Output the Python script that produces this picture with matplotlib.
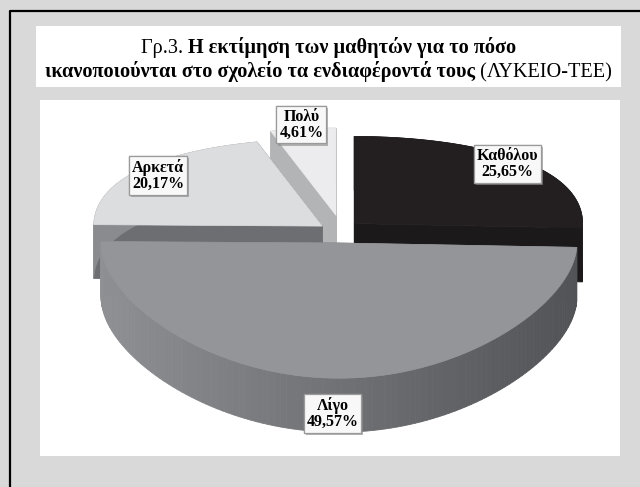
import numpy as np
import matplotlib
matplotlib.use("Agg")
import matplotlib.pyplot as plt
from matplotlib.patches import Polygon, Rectangle
import matplotlib.patheffects as pe

labels = ["Καθόλου", "Λίγο", "Αρκετά", "Πολύ"]
values = [25.65, 49.57, 20.17, 4.61]
top_colors = ["#231f20", "#939598", "#dcdddf", "#ececee"]
cut_colors = ["#1c191a", "#7a7b7e", "#6d6e71", "#b3b4b6"]
wall_colors = ["#1c191a", None, "#8a8b8e", "#b3b4b6"]
explode = [1, 0, 1, 1]
label_r = [0.93, 1.0, 0.9, 1.05]

title_line1 = [("Γρ.3. ", "normal"), ("Η εκτίμηση των μαθητών για το πόσο", "bold")]
title_line2 = [("ικανοποιούνται στο σχολείο τα ενδιαφέροντά τους", "bold"), (" (ΛΥΚΕΙΟ-ΤΕΕ)", "normal")]

W, H = 640, 487
fig = plt.figure(figsize=(W / 100, H / 100), dpi=100, facecolor="#d9d9d9")
ax = fig.add_axes([0, 0, 1, 1])
ax.set_xlim(0, W)
ax.set_ylim(H, 0)
ax.axis("off")

# outer frame and the two white panels
ax.plot([10, 10, W], [H, 11, 11], color="black", lw=1.6, solid_capstyle="butt")
ax.add_patch(Rectangle((36, 26), 585, 61, fc="white", ec="none"))
ax.add_patch(Rectangle((40, 100), 580, 356, fc="white", ec="none"))

# 3D pie geometry (screen units)
cx, cy = 339, 243
a = 238
k, p = 106, 0.216
h = 54
ex, ey = 21, 28
back_shrink = 0.96


def rim(theta, ox, oy, aa):
    v = np.cos(theta)
    return ox + aa * np.sin(theta), oy - k * v / (1 + p * v)


fracs = np.array(values) / sum(values)
ends = np.cumsum(fracs) * 2 * np.pi
starts = ends - fracs * 2 * np.pi
mids = (starts + ends) / 2

gl = np.array([0x8f, 0x90, 0x93]) / 255
gr = np.array([0x52, 0x53, 0x56]) / 255

label_pos = []
for i in [3, 2, 0, 1]:
    m = mids[i]
    ox = cx + explode[i] * ex * np.sin(m)
    oy = cy - explode[i] * ey * np.cos(m)
    aa = a * (back_shrink if explode[i] else 1.0)
    th = np.linspace(starts[i], ends[i], 120)
    xs, ys = rim(th, ox, oy, aa)

    # radial cut faces
    for t in (starts[i], ends[i]):
        rx, ry = rim(t, ox, oy, aa)
        ax.add_patch(Polygon([(ox, oy), (rx, ry), (rx, ry + h), (ox, oy + h)],
                             fc=cut_colors[i], ec=cut_colors[i], lw=0.5))
    # outer wall
    if wall_colors[i] is None:
        for j in range(len(th) - 1):
            f = np.clip((xs[j] - (cx - a)) / (2 * a), 0, 1)
            c = gl * (1 - f) + gr * f
            ax.add_patch(Polygon([(xs[j], ys[j]), (xs[j + 1], ys[j + 1]),
                                  (xs[j + 1], ys[j + 1] + h), (xs[j], ys[j] + h)],
                                 fc=c, ec=c, lw=0.6))
    else:
        pts = list(zip(xs, ys)) + list(zip(xs[::-1], ys[::-1] + h))
        ax.add_patch(Polygon(pts, fc=wall_colors[i], ec=wall_colors[i], lw=0.5))
    # top face
    ax.add_patch(Polygon([(ox, oy)] + list(zip(xs, ys)), fc=top_colors[i],
                         ec=top_colors[i], lw=0.5))

    lx, ly = rim(m, ox, oy, aa)
    lx = ox + (lx - ox) * label_r[i]
    ly = oy + (ly - oy) * label_r[i]
    if np.cos(m) < 0:
        ly += h * 0.65
    label_pos.append((i, lx, ly))

for i, lx, ly in label_pos:
    txt = f"{labels[i]}\n{values[i]:.2f}%".replace(".", ",")
    t = ax.text(lx, ly, txt, ha="center", va="center", fontsize=11.5,
                fontweight="bold", family="Liberation Serif", linespacing=1.0,
                bbox=dict(boxstyle="square,pad=0.18", fc="#f8f8f8", ec="#9a9a9a", lw=0.9))
    t.get_bbox_patch().set_path_effects([
        pe.withSimplePatchShadow(offset=(1.5, -1.5), shadow_rgbFace="#888888", alpha=0.6),
        pe.Normal()])

# title, mixed regular / bold pieces centred in the white box
title_cx = (36 + 621) / 2
renderer = fig.canvas.get_renderer()


def draw_line(parts, y, size):
    texts = [ax.text(0, y, s, fontsize=size, fontweight=w, family="Liberation Serif",
                     va="baseline", ha="left") for s, w in parts]
    widths = [t.get_window_extent(renderer).width for t in texts]
    x = title_cx - sum(widths) / 2
    for t, w in zip(texts, widths):
        t.set_x(x)
        x += w


draw_line(title_line1, 53, 14.6)
draw_line(title_line2, 77, 14.6)

fig.savefig("out.png", dpi=100, facecolor=fig.get_facecolor())
